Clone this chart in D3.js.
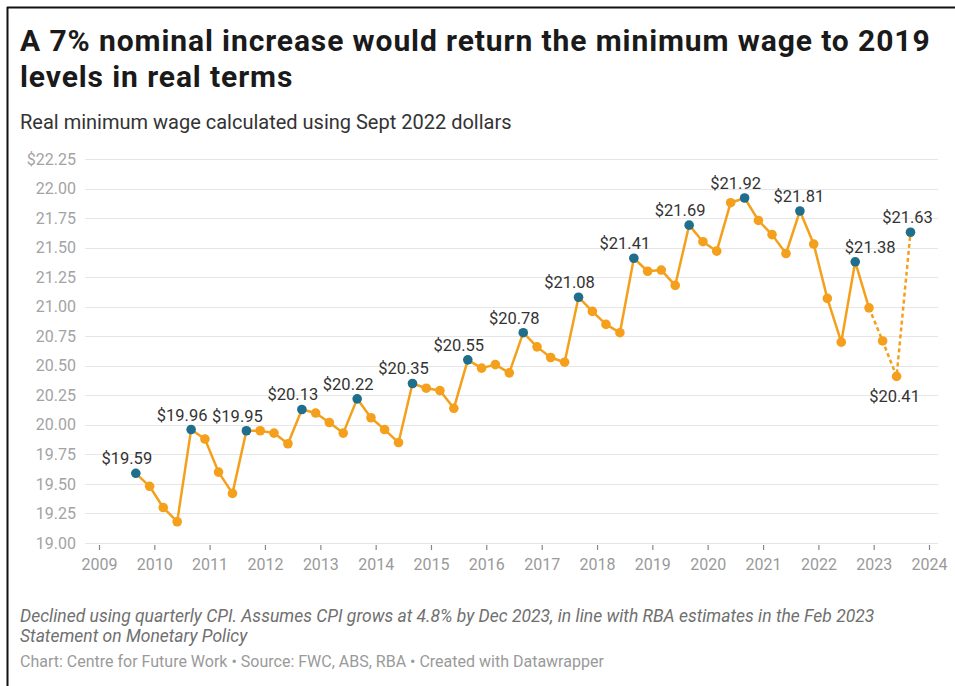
<!DOCTYPE html>
<html>
<head>
<meta charset="utf-8">
<script src="https://cdn.jsdelivr.net/npm/d3@7"></script>
<style>
  html, body { margin: 0; padding: 0; background: #fff; }
  svg { display: block; font-family: Roboto, "Noto Sans", Arial, sans-serif; }
</style>
</head>
<body>
<svg id="chart" width="955" height="686"></svg>
<script>
// Quarterly real minimum wage (Sept 2022 dollars), Sep 2009 – Sep 2023
const quarters = [
  "2009-09", "2009-12",
  "2010-03", "2010-06", "2010-09", "2010-12",
  "2011-03", "2011-06", "2011-09", "2011-12",
  "2012-03", "2012-06", "2012-09", "2012-12",
  "2013-03", "2013-06", "2013-09", "2013-12",
  "2014-03", "2014-06", "2014-09", "2014-12",
  "2015-03", "2015-06", "2015-09", "2015-12",
  "2016-03", "2016-06", "2016-09", "2016-12",
  "2017-03", "2017-06", "2017-09", "2017-12",
  "2018-03", "2018-06", "2018-09", "2018-12",
  "2019-03", "2019-06", "2019-09", "2019-12",
  "2020-03", "2020-06", "2020-09", "2020-12",
  "2021-03", "2021-06", "2021-09", "2021-12",
  "2022-03", "2022-06", "2022-09", "2022-12",
  "2023-03", "2023-06", "2023-09"
];
const realWage = [
  19.59, 19.48,
  19.30, 19.18, 19.96, 19.88,
  19.60, 19.42, 19.95, 19.95,
  19.93, 19.84, 20.13, 20.10,
  20.02, 19.93, 20.22, 20.06,
  19.96, 19.85, 20.35, 20.31,
  20.29, 20.14, 20.55, 20.48,
  20.51, 20.44, 20.78, 20.66,
  20.57, 20.53, 21.08, 20.96,
  20.85, 20.78, 21.41, 21.30,
  21.31, 21.18, 21.69, 21.55,
  21.47, 21.88, 21.92, 21.73,
  21.61, 21.45, 21.81, 21.53,
  21.07, 20.70, 21.38, 20.99,
  20.71, 20.41, 21.63
];
// First quarter that is a projection (drawn dashed from the previous point)
const firstForecast = "2023-03";
// Quarters whose value is written on the chart
const labelledQuarters = [
  "2009-09", "2010-09", "2011-09", "2012-09", "2013-09", "2014-09", "2015-09",
  "2016-09", "2017-09", "2018-09", "2019-09", "2020-09", "2021-09", "2022-09",
  "2023-06", "2023-09"
];
const yTicks = [19.00, 19.25, 19.50, 19.75, 20.00, 20.25, 20.50, 20.75,
                21.00, 21.25, 21.50, 21.75, 22.00, 22.25];
const xYears = d3.range(2009, 2025);

const titleLines = [
  "A 7% nominal increase would return the minimum wage to 2019",
  "levels in real terms"
];
const subtitle = "Real minimum wage calculated using Sept 2022 dollars";
const noteLines = [
  "Declined using quarterly CPI. Assumes CPI grows at 4.8% by Dec 2023, in line with RBA estimates in the Feb 2023",
  "Statement on Monetary Policy"
];
const credit = "Chart: Centre for Future Work \u2022 Source: FWC, ABS, RBA \u2022 Created with Datawrapper";

// ---- layout & style ----
const ORANGE = "#f5a01c";
const BLUE = "#1f6e8c";
const parseQ = d3.timeParse("%Y-%m");
const data = quarters.map((q, i) => ({ q, date: parseQ(q), value: realWage[i] }));
const forecastIdx = quarters.indexOf(firstForecast);

// horizontal nudges for value labels (px), default applied to others
const labelNudge = { "2021-09": -1, "2022-09": 15, "2023-06": -2, "2023-09": -3 };
const defaultNudge = -9;

const svg = d3.select("#chart");

// frame edges
svg.append("line").attr("x1", 7).attr("x2", 955).attr("y1", 7.5).attr("y2", 7.5)
  .attr("stroke", "#111").attr("stroke-width", 2);
svg.append("line").attr("x1", 7.5).attr("x2", 7.5).attr("y1", 7).attr("y2", 686)
  .attr("stroke", "#111").attr("stroke-width", 2);

// header
const title = svg.append("text").attr("x", 20).attr("y", 51)
  .attr("font-size", 30).attr("font-weight", 700).attr("letter-spacing", 0.9)
  .attr("fill", "#1a1a1a");
titleLines.forEach((t, i) => title.append("tspan").attr("x", 20).attr("dy", i ? 35.5 : 0).text(t));

svg.append("text").attr("x", 20).attr("y", 129).attr("font-size", 20)
  .attr("fill", "#333").text(subtitle);

// scales
const x = d3.scaleTime()
  .domain([new Date(2009, 0, 1), new Date(2024, 0, 1)])
  .range([99, 929]);
const y = d3.scaleLinear().domain([19, 22.25]).range([543, 159]);

// grid + y labels
const grid = svg.append("g");
grid.selectAll("line").data(yTicks).join("line")
  .attr("x1", 85).attr("x2", 938)
  .attr("y1", d => Math.round(y(d)) + 0.5).attr("y2", d => Math.round(y(d)) + 0.5)
  .attr("stroke", "#e6e6e6").attr("stroke-width", 1);
grid.selectAll("text").data(yTicks).join("text")
  .attr("x", 76).attr("y", d => y(d)).attr("dy", "0.35em")
  .attr("text-anchor", "end").attr("font-size", 16).attr("fill", "#a3a3a3")
  .text((d, i) => (i === yTicks.length - 1 ? "$" : "") + d3.format(".2f")(d));

// x axis
const xAxis = d3.axisBottom(x)
  .tickValues(xYears.map(yr => new Date(yr, 0, 1)))
  .tickFormat(d3.timeFormat("%Y"))
  .tickSize(5).tickPadding(9);
const gx = svg.append("g").attr("transform", "translate(0,545)").call(xAxis);
gx.select(".domain").remove();
gx.selectAll(".tick line").attr("stroke", "#888").attr("stroke-width", 1.2);
gx.selectAll(".tick text").attr("font-size", 16).attr("fill", "#9a9a9a")
  .attr("font-family", "Roboto, sans-serif");

// line
const line = d3.line().x(d => x(d.date)).y(d => y(d.value));
svg.append("path").datum(data.slice(0, forecastIdx))
  .attr("d", line).attr("fill", "none").attr("stroke", ORANGE)
  .attr("stroke-width", 2.5).attr("stroke-linejoin", "round");
svg.append("path").datum(data.slice(forecastIdx - 1))
  .attr("d", line).attr("fill", "none").attr("stroke", ORANGE)
  .attr("stroke-width", 2.5).attr("stroke-dasharray", "4,3");

// points: September quarters highlighted
const isSept = d => d.date.getMonth() === 8;
svg.append("g").selectAll("circle").data(data).join("circle")
  .attr("cx", d => x(d.date)).attr("cy", d => y(d.value)).attr("r", 4.8)
  .attr("fill", d => isSept(d) ? BLUE : ORANGE);

// value labels
const labelled = data.filter(d => labelledQuarters.includes(d.q));
svg.append("g").selectAll("text").data(labelled).join("text")
  .attr("x", d => x(d.date) + (labelNudge[d.q] ?? defaultNudge))
  .attr("y", d => isSept(d) ? y(d.value) - 9 : y(d.value) + 26)
  .attr("text-anchor", "middle").attr("font-size", 16.5).attr("fill", "#333")
  .text(d => "$" + d3.format(".2f")(d.value));

// footer
const note = svg.append("text").attr("x", 20).attr("y", 622)
  .attr("font-size", 17.5).attr("font-style", "italic").attr("fill", "#707070");
noteLines.forEach((t, i) => note.append("tspan").attr("x", 20).attr("dy", i ? 20 : 0).text(t));
svg.append("text").attr("x", 20).attr("y", 667).attr("font-size", 16)
  .attr("fill", "#9a9a9a").text(credit);
</script>
</body>
</html>
